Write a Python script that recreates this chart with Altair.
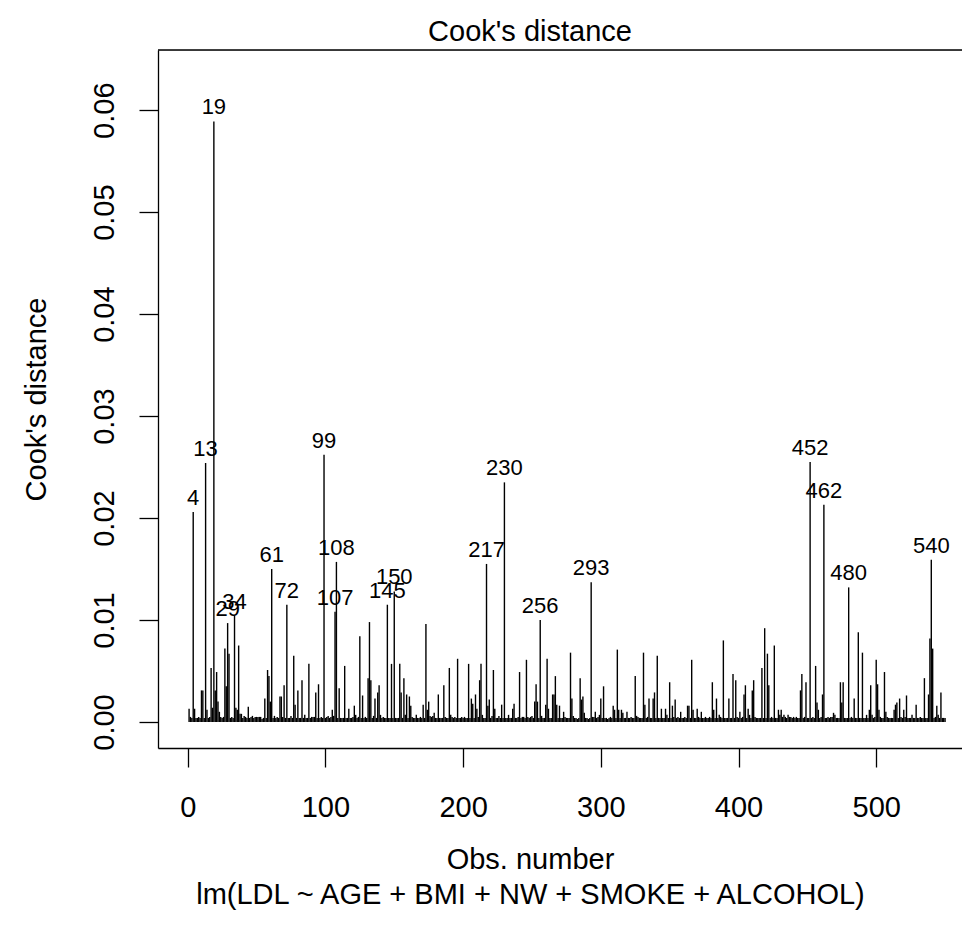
import altair as alt
import pandas as pd

cook_e4 = [
    13, 5, 4, 206, 13, 4, 4, 5, 4, 31,
    31, 4, 254, 12, 4, 5, 53, 14, 589, 31,
    49, 20, 10, 5, 4, 5, 72, 35, 97, 67,
    4, 5, 4, 104, 14, 12, 75, 8, 8, 4,
    6, 5, 4, 15, 4, 5, 6, 4, 5, 5,
    5, 5, 5, 3, 4, 23, 4, 51, 45, 20,
    150, 4, 6, 4, 5, 4, 25, 25, 5, 36,
    4, 115, 4, 4, 6, 4, 65, 17, 4, 31,
    4, 4, 41, 4, 7, 4, 4, 57, 4, 5,
    5, 5, 29, 4, 37, 4, 5, 4, 262, 4,
    5, 6, 4, 5, 12, 6, 108, 157, 4, 33,
    4, 4, 4, 55, 4, 4, 13, 4, 4, 5,
    16, 7, 4, 5, 84, 4, 26, 4, 5, 4,
    43, 98, 41, 4, 6, 23, 4, 29, 36, 7,
    4, 5, 4, 4, 115, 4, 4, 57, 4, 128,
    4, 4, 4, 57, 29, 4, 43, 7, 27, 4,
    25, 16, 5, 4, 4, 7, 4, 4, 5, 4,
    17, 4, 96, 12, 20, 6, 5, 6, 9, 4,
    4, 27, 4, 4, 4, 36, 5, 4, 4, 53,
    7, 5, 4, 5, 4, 62, 4, 4, 5, 4,
    5, 4, 4, 57, 4, 23, 18, 4, 27, 13,
    5, 41, 57, 7, 4, 4, 155, 16, 22, 4,
    6, 51, 13, 4, 4, 6, 4, 17, 4, 235,
    4, 4, 7, 4, 4, 13, 18, 4, 4, 5,
    49, 4, 5, 5, 4, 61, 5, 4, 5, 6,
    4, 20, 37, 20, 4, 100, 6, 4, 4, 17,
    62, 13, 4, 4, 27, 27, 45, 17, 4, 16,
    4, 4, 10, 5, 4, 4, 4, 68, 23, 6,
    4, 4, 3, 4, 43, 22, 25, 9, 4, 4,
    3, 4, 137, 5, 5, 10, 4, 5, 7, 23,
    4, 35, 4, 4, 3, 4, 5, 4, 16, 12,
    4, 71, 12, 4, 12, 9, 4, 4, 10, 4,
    4, 5, 4, 4, 45, 6, 5, 4, 4, 4,
    68, 17, 4, 5, 23, 4, 4, 23, 29, 4,
    65, 4, 4, 13, 4, 4, 13, 7, 4, 39,
    4, 16, 5, 22, 4, 5, 4, 10, 4, 4,
    5, 4, 16, 16, 4, 61, 12, 4, 4, 13,
    5, 4, 10, 4, 4, 5, 4, 4, 5, 4,
    39, 12, 4, 23, 4, 7, 5, 4, 80, 4,
    4, 4, 23, 4, 4, 47, 4, 41, 5, 4,
    10, 4, 5, 27, 36, 4, 13, 7, 4, 31,
    41, 5, 4, 4, 4, 4, 53, 4, 92, 4,
    67, 36, 4, 5, 4, 75, 4, 4, 12, 7,
    12, 5, 7, 5, 4, 7, 5, 5, 4, 5,
    4, 5, 4, 4, 31, 47, 4, 5, 39, 4,
    4, 255, 4, 5, 4, 55, 19, 12, 4, 5,
    27, 213, 4, 4, 5, 4, 5, 5, 9, 7,
    4, 4, 4, 39, 19, 39, 4, 4, 4, 132,
    4, 5, 4, 23, 4, 4, 88, 4, 4, 68,
    4, 4, 7, 4, 12, 36, 7, 4, 5, 61,
    37, 12, 5, 4, 4, 49, 10, 5, 4, 4,
    4, 4, 12, 17, 19, 4, 23, 5, 4, 12,
    5, 26, 4, 4, 4, 7, 4, 4, 17, 4,
    4, 5, 4, 4, 43, 4, 4, 27, 82, 159,
    72, 4, 5, 16, 7, 4, 29, 4, 4, 4,
]

label_ids = [4, 13, 19, 29, 34, 61, 72, 99, 107, 108, 145, 150,
             217, 230, 256, 293, 452, 462, 480, 540]
x_ticks = [0, 100, 200, 300, 400, 500]
y_ticks = [0.0, 0.01, 0.02, 0.03, 0.04, 0.05, 0.06]

main_title = "Cook's distance"
x_title = ["Obs. number", "lm(LDL ~ AGE + BMI + NW + SMOKE + ALCOHOL)"]
y_title = "Cook's distance"

FONT = "Liberation Sans"
W, H = 804, 698
PAD_L, PAD_T = 158, 50

df = pd.DataFrame({
    "obs": list(range(1, len(cook_e4) + 1)),
    "cook": [v / 1e4 for v in cook_e4],
})
lab = df[df["obs"].isin(label_ids)].copy()
lab["label"] = lab["obs"].astype(str)

xscale = alt.Scale(domain=[-21.57, 562.3], nice=False, zero=False)
yscale = alt.Scale(domain=[-0.00255, 0.0659], nice=False, zero=False)

xaxis = alt.Axis(
    values=x_ticks, grid=False, tickSize=19, tickWidth=1.3, tickColor="black",
    domainColor="black", domainWidth=1.3, labelFont=FONT, labelFontSize=29,
    labelColor="black", labelPadding=26, labelFlush=False, labelOverlap=False,
    title=x_title, titleFont=FONT, titleFontSize=29, titleFontWeight="normal",
    titleColor="black", titleX=372, titleY=120, titleAlign="center",
    titleBaseline="alphabetic", titleLineHeight=35, titleAnchor="start",
)
yaxis = alt.Axis(
    values=y_ticks, format=".2f", grid=False, tickSize=19, tickWidth=1.3,
    tickColor="black", domainColor="black", domainWidth=1.3, labelFont=FONT,
    labelFontSize=29, labelColor="black", labelAngle=270, labelAlign="center",
    labelBaseline="bottom", labelPadding=20, labelFlush=False, labelOverlap=False,
    title=y_title, titleFont=FONT, titleFontSize=29, titleFontWeight="normal",
    titleColor="black", titleX=-113, titleY=H / 2, titleAngle=270,
    titleAlign="center", titleBaseline="alphabetic",
)

bars = alt.Chart(df).mark_rule(color="black", strokeWidth=1.4).encode(
    x=alt.X("obs:Q", scale=xscale, axis=xaxis),
    y=alt.Y("cook:Q", scale=yscale, axis=yaxis),
    y2=alt.datum(0),
)

labels = alt.Chart(lab).mark_text(
    font=FONT, fontSize=22, color="black", baseline="alphabetic", dy=-7
).encode(
    x=alt.X("obs:Q", scale=xscale),
    y=alt.Y("cook:Q", scale=yscale),
    text="label:N",
)

top_border = alt.Chart(pd.DataFrame({"z": [0]})).mark_rule(
    color="black", strokeWidth=1.3
).encode(x=alt.value(0), x2=alt.value(W), y=alt.value(0))

chart = alt.layer(bars, labels, top_border).properties(
    width=W, height=H,
    title=alt.TitleParams(
        main_title, font=FONT, fontSize=29, fontWeight="normal", color="black",
        anchor="middle", dx=-30, dy=31, baseline="alphabetic", offset=10,
        frame="group",
    ),
    autosize=alt.AutoSizeParams(type="none"),
    padding={"left": PAD_L, "top": PAD_T, "right": 0, "bottom": 940 - PAD_T - H},
).configure_view(stroke=None).configure(background="white")

chart.save("out.html", embed_options={"renderer": "svg", "actions": False})
